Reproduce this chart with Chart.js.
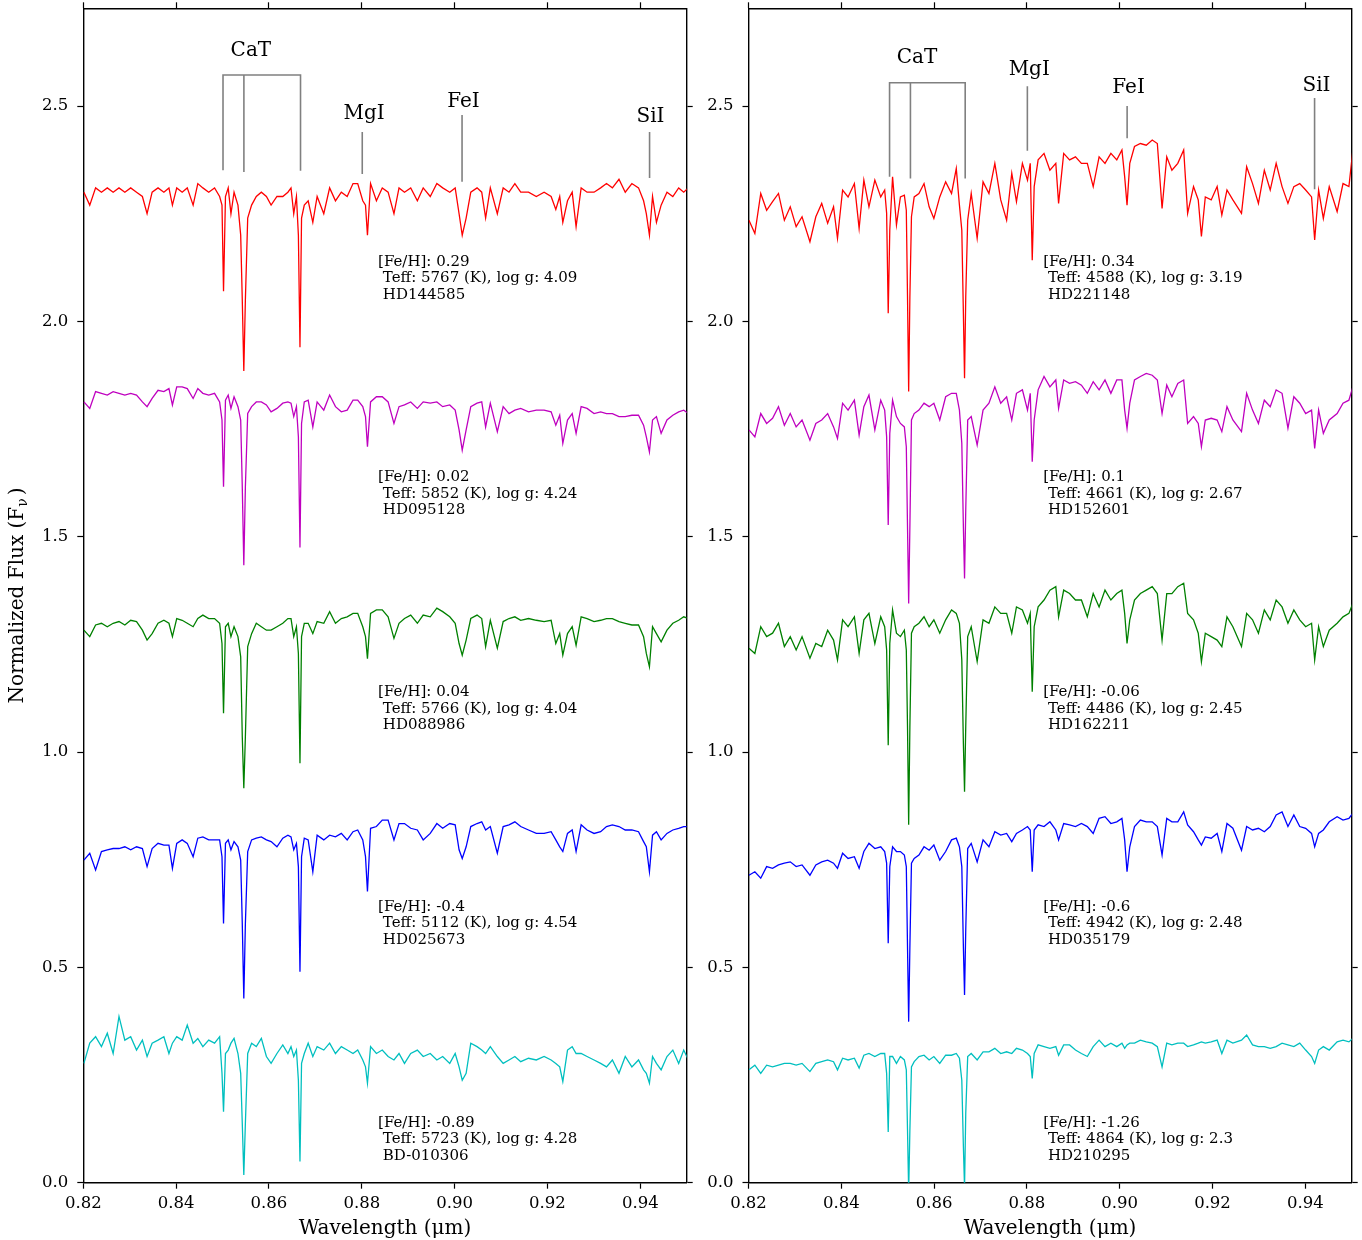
<!DOCTYPE html>
<html>
<head>
<meta charset="utf-8">
<script src="https://cdn.jsdelivr.net/npm/chart.js@4.4.0/dist/chart.umd.min.js"></script>
<style>
  html, body { margin: 0; padding: 0; background: #fff; }
  #wrap { position: relative; width: 1362px; height: 1240px; }
  canvas { position: absolute; top: 0; }
  #left { left: 0; }
  #right { left: 700px; }
</style>
</head>
<body>
<div id="wrap">
  <canvas id="left" width="700" height="1240"></canvas>
  <canvas id="right" width="662" height="1240"></canvas>
</div>
<script>
// axis ticks
const xTicks = [0.82, 0.84, 0.86, 0.88, 0.90, 0.92, 0.94];
const yTicks = [0.0, 0.5, 1.0, 1.5, 2.0, 2.5];
const seriesColors = ['#ff0000', '#bf00bf', '#008000', '#0000ff', '#00bfbf'];

// star info (top to bottom)
const leftFeH = ['0.29', '0.02', '0.04', '-0.4', '-0.89'];
const leftTeff = ['5767', '5852', '5766', '5112', '5723'];
const leftLogg = ['4.09', '4.24', '4.04', '4.54', '4.28'];
const leftStar = ['HD144585', 'HD095128', 'HD088986', 'HD025673', 'BD-010306'];
const rightFeH = ['0.34', '0.1', '-0.06', '-0.6', '-1.26'];
const rightTeff = ['4588', '4661', '4486', '4942', '4864'];
const rightLogg = ['3.19', '2.67', '2.45', '2.48', '2.3'];
const rightStar = ['HD221148', 'HD152601', 'HD162211', 'HD035179', 'HD210295'];
const infoX = 0.8835;
const infoY = [2.138, 1.638, 1.139, 0.640, 0.139];

// line identifications
const lineNames = ['CaT', 'MgI', 'FeI', 'SiI'];
const leftNameX = [0.8561, 0.8805, 0.9019, 0.9422];
const leftNameY = [2.628, 2.481, 2.510, 2.474];
const rightNameX = [0.8563, 0.8805, 0.9019, 0.9424];
const rightNameY = [2.611, 2.585, 2.542, 2.546];
const leftCaTX = [0.8501, 0.8546, 0.8668];
const leftCaTTop = 2.572;
const leftCaTBottom = [2.351, 2.347, 2.350];
const leftMarkX = [0.8801, 0.9016, 0.9420];
const leftMarkTop = [2.440, 2.479, 2.440];
const leftMarkBottom = [2.342, 2.324, 2.333];
const rightCaTX = [0.8504, 0.8549, 0.8667];
const rightCaTTop = 2.554;
const rightCaTBottom = [2.336, 2.332, 2.332];
const rightMarkX = [0.8801, 0.9016, 0.9420];
const rightMarkTop = [2.546, 2.500, 2.519];
const rightMarkBottom = [2.396, 2.425, 2.307];

// ---- left panel: dwarfs ----
const leftWave = [
  0.82013, 0.82139, 0.82265, 0.82391, 0.82517, 0.82643, 0.82769, 0.82895, 0.83021, 0.83147,
  0.83273, 0.83374, 0.83483, 0.83610, 0.83736, 0.83845, 0.83920, 0.84013, 0.84130, 0.84240,
  0.84366, 0.84467, 0.84576, 0.84702, 0.84828, 0.84937, 0.84988, 0.85021, 0.85063, 0.85122,
  0.85181, 0.85248, 0.85332, 0.85391, 0.85425, 0.85458, 0.85492, 0.85542, 0.85626, 0.85727,
  0.85836, 0.85945, 0.86046, 0.86172, 0.86298, 0.86408, 0.86475, 0.86534, 0.86592, 0.86634,
  0.86668, 0.86702, 0.86761, 0.86845, 0.86945, 0.87038, 0.87181, 0.87307, 0.87433, 0.87559,
  0.87685, 0.87811, 0.87912, 0.88021, 0.88080, 0.88122, 0.88189, 0.88315, 0.88441, 0.88567,
  0.88693, 0.88802, 0.88920, 0.89054, 0.89197, 0.89323, 0.89475, 0.89617, 0.89743, 0.89895,
  0.90012, 0.90096, 0.90164, 0.90248, 0.90348, 0.90483, 0.90584, 0.90668, 0.90769, 0.90920,
  0.91046, 0.91172, 0.91298, 0.91424, 0.91592, 0.91760, 0.91928, 0.92079, 0.92180, 0.92264,
  0.92331, 0.92432, 0.92533, 0.92617, 0.92726, 0.92853, 0.93004, 0.93146, 0.93272, 0.93399,
  0.93541, 0.93676, 0.93819, 0.93962, 0.94071, 0.94130, 0.94197, 0.94264, 0.94348, 0.94449,
  0.94575, 0.94701, 0.94827, 0.94936, 0.95037
];
const leftRed = [
  2.30, 2.27, 2.31, 2.30, 2.31, 2.30, 2.31, 2.30, 2.31, 2.30,
  2.29, 2.25, 2.30, 2.31, 2.30, 2.31, 2.27, 2.31, 2.30, 2.31,
  2.27, 2.32, 2.31, 2.30, 2.31, 2.29, 2.27, 2.07, 2.29, 2.31,
  2.25, 2.30, 2.27, 2.20, 2.05, 1.885, 2.05, 2.24, 2.27, 2.29,
  2.30, 2.29, 2.27, 2.29, 2.29, 2.30, 2.31, 2.25, 2.29, 2.20,
  1.94, 2.24, 2.27, 2.28, 2.23, 2.29, 2.25, 2.31, 2.28, 2.30,
  2.29, 2.32, 2.32, 2.28, 2.27, 2.20, 2.32, 2.28, 2.31, 2.30,
  2.25, 2.31, 2.30, 2.31, 2.28, 2.31, 2.29, 2.32, 2.31, 2.30,
  2.31, 2.25, 2.20, 2.24, 2.30, 2.31, 2.30, 2.24, 2.31, 2.25,
  2.31, 2.30, 2.32, 2.30, 2.30, 2.29, 2.30, 2.29, 2.26, 2.29,
  2.23, 2.28, 2.30, 2.22, 2.31, 2.30, 2.30, 2.31, 2.32, 2.31,
  2.33, 2.30, 2.32, 2.31, 2.28, 2.25, 2.20, 2.29, 2.23, 2.27,
  2.30, 2.29, 2.31, 2.30, 2.31
];
const leftMagenta = [
  1.813, 1.798, 1.837, 1.833, 1.829, 1.837, 1.833, 1.829, 1.833, 1.829,
  1.813, 1.802, 1.821, 1.840, 1.837, 1.844, 1.806, 1.848, 1.848, 1.844,
  1.821, 1.844, 1.833, 1.829, 1.833, 1.813, 1.771, 1.616, 1.817, 1.829,
  1.798, 1.825, 1.802, 1.771, 1.616, 1.434, 1.616, 1.786, 1.802, 1.813,
  1.813, 1.806, 1.790, 1.798, 1.810, 1.813, 1.810, 1.779, 1.802, 1.732,
  1.475, 1.763, 1.813, 1.817, 1.755, 1.813, 1.794, 1.829, 1.802, 1.790,
  1.794, 1.817, 1.817, 1.802, 1.779, 1.709, 1.813, 1.825, 1.825, 1.813,
  1.763, 1.802, 1.806, 1.813, 1.798, 1.813, 1.810, 1.813, 1.802, 1.806,
  1.794, 1.748, 1.701, 1.748, 1.802, 1.810, 1.813, 1.755, 1.810, 1.744,
  1.802, 1.786, 1.794, 1.798, 1.790, 1.794, 1.794, 1.790, 1.759, 1.782,
  1.717, 1.771, 1.786, 1.740, 1.802, 1.798, 1.786, 1.790, 1.786, 1.786,
  1.779, 1.779, 1.782, 1.782, 1.759, 1.732, 1.697, 1.771, 1.779, 1.740,
  1.771, 1.782, 1.790, 1.794, 1.786
];
const leftGreen = [
  1.283, 1.268, 1.295, 1.299, 1.291, 1.299, 1.303, 1.295, 1.306, 1.303,
  1.283, 1.260, 1.275, 1.299, 1.306, 1.299, 1.268, 1.310, 1.306, 1.299,
  1.291, 1.310, 1.318, 1.310, 1.310, 1.299, 1.252, 1.090, 1.291, 1.299,
  1.268, 1.291, 1.268, 1.221, 1.036, 0.916, 1.036, 1.245, 1.275, 1.299,
  1.291, 1.283, 1.283, 1.291, 1.299, 1.310, 1.310, 1.268, 1.291, 1.229,
  0.974, 1.268, 1.299, 1.299, 1.275, 1.303, 1.299, 1.326, 1.299, 1.310,
  1.314, 1.322, 1.322, 1.291, 1.268, 1.217, 1.322, 1.330, 1.330, 1.314,
  1.264, 1.299, 1.310, 1.318, 1.299, 1.318, 1.314, 1.334, 1.326, 1.314,
  1.299, 1.252, 1.225, 1.260, 1.310, 1.318, 1.310, 1.245, 1.306, 1.241,
  1.303, 1.310, 1.314, 1.306, 1.310, 1.306, 1.303, 1.306, 1.252, 1.275,
  1.225, 1.275, 1.291, 1.248, 1.314, 1.310, 1.303, 1.306, 1.310, 1.310,
  1.303, 1.299, 1.295, 1.295, 1.268, 1.229, 1.198, 1.291, 1.275, 1.256,
  1.283, 1.299, 1.306, 1.314, 1.310
];
const leftBlue = [
  0.749, 0.765, 0.726, 0.769, 0.773, 0.776, 0.776, 0.780, 0.773, 0.780,
  0.776, 0.734, 0.776, 0.788, 0.784, 0.784, 0.730, 0.788, 0.796, 0.788,
  0.757, 0.800, 0.803, 0.796, 0.796, 0.796, 0.757, 0.602, 0.788, 0.796,
  0.773, 0.792, 0.780, 0.749, 0.602, 0.428, 0.602, 0.769, 0.796, 0.800,
  0.803, 0.796, 0.792, 0.780, 0.800, 0.807, 0.803, 0.773, 0.788, 0.734,
  0.490, 0.757, 0.800, 0.796, 0.722, 0.807, 0.796, 0.807, 0.803, 0.811,
  0.796, 0.815, 0.819, 0.796, 0.757, 0.676, 0.823, 0.827, 0.842, 0.842,
  0.796, 0.834, 0.834, 0.823, 0.819, 0.796, 0.811, 0.834, 0.823, 0.834,
  0.831, 0.773, 0.753, 0.780, 0.827, 0.834, 0.838, 0.819, 0.827, 0.765,
  0.827, 0.831, 0.838, 0.827, 0.819, 0.811, 0.811, 0.815, 0.796, 0.780,
  0.769, 0.811, 0.819, 0.769, 0.831, 0.819, 0.811, 0.815, 0.827, 0.831,
  0.827, 0.819, 0.819, 0.815, 0.792, 0.780, 0.722, 0.807, 0.815, 0.796,
  0.811, 0.819, 0.823, 0.827, 0.827
];
const leftCyan = [
  0.277, 0.324, 0.339, 0.316, 0.347, 0.300, 0.386, 0.331, 0.339, 0.308,
  0.331, 0.293, 0.324, 0.331, 0.339, 0.300, 0.324, 0.339, 0.331, 0.366,
  0.324, 0.335, 0.316, 0.331, 0.324, 0.339, 0.254, 0.165, 0.300, 0.308,
  0.324, 0.335, 0.300, 0.254, 0.138, 0.018, 0.138, 0.300, 0.324, 0.316,
  0.335, 0.293, 0.277, 0.300, 0.320, 0.300, 0.316, 0.293, 0.308, 0.238,
  0.049, 0.277, 0.300, 0.324, 0.293, 0.316, 0.308, 0.324, 0.300, 0.316,
  0.308, 0.300, 0.308, 0.285, 0.269, 0.231, 0.316, 0.300, 0.308, 0.293,
  0.285, 0.300, 0.277, 0.300, 0.308, 0.293, 0.300, 0.285, 0.293, 0.277,
  0.300, 0.269, 0.238, 0.254, 0.324, 0.316, 0.308, 0.300, 0.316, 0.293,
  0.277, 0.285, 0.293, 0.281, 0.289, 0.285, 0.293, 0.285, 0.277, 0.269,
  0.235, 0.308, 0.316, 0.300, 0.300, 0.293, 0.285, 0.277, 0.269, 0.285,
  0.254, 0.293, 0.269, 0.285, 0.262, 0.254, 0.231, 0.293, 0.277, 0.262,
  0.293, 0.308, 0.277, 0.308, 0.285
];

// ---- right panel: giants ----
const rightWave = [
  0.82010, 0.82137, 0.82264, 0.82391, 0.82519, 0.82646, 0.82773, 0.82900, 0.83027, 0.83154,
  0.83324, 0.83451, 0.83578, 0.83706, 0.83833, 0.83918, 0.84028, 0.84146, 0.84282, 0.84384,
  0.84486, 0.84596, 0.84723, 0.84850, 0.84935, 0.84977, 0.85011, 0.85045, 0.85105, 0.85189,
  0.85274, 0.85359, 0.85401, 0.85427, 0.85452, 0.85478, 0.85512, 0.85571, 0.85673, 0.85783,
  0.85893, 0.85995, 0.86122, 0.86249, 0.86376, 0.86478, 0.86546, 0.86597, 0.86631, 0.86656,
  0.86682, 0.86724, 0.86800, 0.86928, 0.87055, 0.87182, 0.87309, 0.87436, 0.87563, 0.87674,
  0.87775, 0.87903, 0.88013, 0.88072, 0.88115, 0.88157, 0.88242, 0.88369, 0.88496, 0.88623,
  0.88683, 0.88793, 0.88920, 0.89047, 0.89175, 0.89302, 0.89429, 0.89556, 0.89683, 0.89810,
  0.89937, 0.90048, 0.90107, 0.90158, 0.90217, 0.90319, 0.90446, 0.90573, 0.90701, 0.90811,
  0.90913, 0.91014, 0.91125, 0.91252, 0.91379, 0.91464, 0.91591, 0.91693, 0.91761, 0.91845,
  0.91972, 0.92100, 0.92201, 0.92312, 0.92439, 0.92625, 0.92736, 0.92863, 0.92990, 0.93117,
  0.93244, 0.93372, 0.93499, 0.93626, 0.93753, 0.93880, 0.94008, 0.94135, 0.94202, 0.94287,
  0.94389, 0.94516, 0.94686, 0.94813, 0.94940, 0.95025, 0.95152
];
const rightRed = [
  2.235, 2.204, 2.297, 2.258, 2.278, 2.297, 2.235, 2.266, 2.220, 2.243,
  2.185, 2.243, 2.274, 2.228, 2.266, 2.193, 2.305, 2.289, 2.320, 2.216,
  2.328, 2.266, 2.328, 2.289, 2.305, 2.251, 2.019, 2.212, 2.336, 2.224,
  2.289, 2.293, 2.258, 2.057, 1.837, 2.057, 2.243, 2.289, 2.297, 2.320,
  2.266, 2.239, 2.289, 2.324, 2.297, 2.355, 2.270, 2.212, 2.019, 1.868,
  2.057, 2.235, 2.297, 2.193, 2.324, 2.297, 2.367, 2.282, 2.235, 2.344,
  2.278, 2.367, 2.328, 2.367, 2.142, 2.313, 2.375, 2.390, 2.351, 2.367,
  2.274, 2.390, 2.375, 2.382, 2.367, 2.367, 2.313, 2.382, 2.367, 2.390,
  2.375, 2.398, 2.336, 2.270, 2.367, 2.406, 2.413, 2.409, 2.421, 2.413,
  2.262, 2.382, 2.351, 2.367, 2.398, 2.251, 2.313, 2.282, 2.197, 2.289,
  2.282, 2.313, 2.247, 2.305, 2.282, 2.251, 2.359, 2.320, 2.274, 2.351,
  2.305, 2.367, 2.313, 2.274, 2.313, 2.320, 2.305, 2.289, 2.189, 2.305,
  2.239, 2.313, 2.255, 2.320, 2.313, 2.398, 2.398
];
const rightMagenta = [
  1.748, 1.732, 1.786, 1.763, 1.775, 1.802, 1.759, 1.786, 1.755, 1.771,
  1.724, 1.763, 1.771, 1.786, 1.755, 1.728, 1.810, 1.794, 1.817, 1.736,
  1.802, 1.829, 1.748, 1.817, 1.794, 1.732, 1.527, 1.740, 1.817, 1.779,
  1.763, 1.755, 1.709, 1.523, 1.345, 1.523, 1.771, 1.786, 1.794, 1.810,
  1.802, 1.810, 1.771, 1.825, 1.833, 1.833, 1.794, 1.717, 1.523, 1.403,
  1.562, 1.771, 1.779, 1.713, 1.794, 1.810, 1.848, 1.810, 1.825, 1.771,
  1.833, 1.841, 1.794, 1.833, 1.674, 1.771, 1.841, 1.872, 1.848, 1.864,
  1.798, 1.864, 1.856, 1.860, 1.852, 1.833, 1.860, 1.841, 1.864, 1.833,
  1.864, 1.864, 1.794, 1.752, 1.810, 1.864, 1.872, 1.879, 1.875, 1.864,
  1.786, 1.852, 1.825, 1.856, 1.864, 1.763, 1.779, 1.763, 1.709, 1.771,
  1.775, 1.771, 1.744, 1.802, 1.771, 1.744, 1.833, 1.794, 1.763, 1.817,
  1.802, 1.841, 1.833, 1.752, 1.825, 1.810, 1.786, 1.794, 1.705, 1.794,
  1.740, 1.771, 1.786, 1.810, 1.817, 1.848, 1.848
];
const rightGreen = [
  1.241, 1.229, 1.291, 1.268, 1.276, 1.299, 1.245, 1.268, 1.237, 1.268,
  1.218, 1.252, 1.245, 1.283, 1.260, 1.214, 1.307, 1.291, 1.314, 1.229,
  1.307, 1.322, 1.252, 1.314, 1.291, 1.237, 1.016, 1.252, 1.330, 1.276,
  1.268, 1.283, 1.237, 1.059, 0.831, 1.059, 1.276, 1.291, 1.299, 1.314,
  1.291, 1.307, 1.276, 1.307, 1.330, 1.322, 1.299, 1.214, 1.020, 0.908,
  1.059, 1.268, 1.291, 1.210, 1.307, 1.299, 1.337, 1.322, 1.322, 1.276,
  1.337, 1.330, 1.299, 1.322, 1.140, 1.291, 1.337, 1.353, 1.376, 1.384,
  1.314, 1.376, 1.368, 1.353, 1.353, 1.314, 1.368, 1.337, 1.376, 1.353,
  1.368, 1.376, 1.322, 1.252, 1.307, 1.353, 1.368, 1.376, 1.384, 1.368,
  1.260, 1.368, 1.368, 1.384, 1.392, 1.322, 1.307, 1.276, 1.210, 1.276,
  1.268, 1.260, 1.245, 1.314, 1.291, 1.245, 1.322, 1.307, 1.276, 1.330,
  1.307, 1.353, 1.337, 1.299, 1.330, 1.307, 1.291, 1.299, 1.214, 1.291,
  1.245, 1.283, 1.299, 1.314, 1.322, 1.345, 1.337
];
const rightBlue = [
  0.714, 0.722, 0.707, 0.734, 0.730, 0.738, 0.742, 0.745, 0.734, 0.738,
  0.714, 0.738, 0.745, 0.749, 0.742, 0.730, 0.765, 0.753, 0.757, 0.730,
  0.769, 0.788, 0.776, 0.780, 0.769, 0.742, 0.556, 0.734, 0.780, 0.769,
  0.769, 0.761, 0.734, 0.548, 0.374, 0.548, 0.742, 0.753, 0.761, 0.780,
  0.772, 0.784, 0.749, 0.769, 0.796, 0.800, 0.780, 0.734, 0.548, 0.436,
  0.587, 0.776, 0.788, 0.745, 0.796, 0.780, 0.815, 0.807, 0.811, 0.792,
  0.811, 0.819, 0.827, 0.819, 0.722, 0.819, 0.831, 0.827, 0.838, 0.819,
  0.796, 0.834, 0.831, 0.827, 0.834, 0.827, 0.811, 0.846, 0.850, 0.834,
  0.838, 0.846, 0.796, 0.722, 0.780, 0.827, 0.842, 0.838, 0.838, 0.827,
  0.761, 0.846, 0.838, 0.838, 0.861, 0.831, 0.815, 0.796, 0.784, 0.803,
  0.800, 0.811, 0.769, 0.834, 0.823, 0.772, 0.827, 0.819, 0.823, 0.815,
  0.827, 0.854, 0.861, 0.827, 0.854, 0.827, 0.823, 0.811, 0.780, 0.811,
  0.819, 0.838, 0.850, 0.842, 0.846, 0.858, 0.858
];
const rightCyan = [
  0.262, 0.273, 0.254, 0.273, 0.269, 0.273, 0.277, 0.277, 0.273, 0.277,
  0.258, 0.277, 0.281, 0.285, 0.281, 0.262, 0.289, 0.285, 0.289, 0.266,
  0.296, 0.300, 0.293, 0.300, 0.300, 0.254, 0.118, 0.293, 0.293, 0.277,
  0.293, 0.285, 0.262, 0.122, -0.020, 0.122, 0.269, 0.281, 0.293, 0.296,
  0.285, 0.293, 0.277, 0.296, 0.296, 0.300, 0.289, 0.238, 0.084, -0.010,
  0.161, 0.293, 0.300, 0.285, 0.304, 0.304, 0.312, 0.300, 0.304, 0.300,
  0.312, 0.308, 0.300, 0.293, 0.242, 0.300, 0.320, 0.316, 0.312, 0.316,
  0.296, 0.320, 0.320, 0.308, 0.300, 0.293, 0.316, 0.331, 0.316, 0.324,
  0.316, 0.324, 0.312, 0.320, 0.324, 0.324, 0.331, 0.327, 0.324, 0.316,
  0.269, 0.324, 0.320, 0.324, 0.324, 0.316, 0.320, 0.324, 0.327, 0.324,
  0.327, 0.331, 0.300, 0.331, 0.324, 0.331, 0.343, 0.320, 0.316, 0.316,
  0.312, 0.316, 0.324, 0.320, 0.316, 0.324, 0.308, 0.293, 0.277, 0.308,
  0.316, 0.308, 0.327, 0.331, 0.327, 0.335, 0.331
];

const serif = '"DejaVu Serif"';

function textLayer(p) {
  return {
    id: 'textLayer',
    afterDraw(chart) {
      const { ctx, chartArea } = chart;
      const xs = chart.scales.x, ys = chart.scales.y;
      ctx.save();
      ctx.fillStyle = '#000';

      // line labels
      ctx.font = '20px ' + serif;
      ctx.textAlign = 'center';
      ctx.textBaseline = 'middle';
      lineNames.forEach((n, k) => {
        ctx.fillText(n, xs.getPixelForValue(p.nameX[k]), ys.getPixelForValue(p.nameY[k]));
      });

      // star parameters
      ctx.font = '15px ' + serif;
      ctx.textAlign = 'left';
      const ix = xs.getPixelForValue(infoX);
      p.feh.forEach((f, i) => {
        const y0 = ys.getPixelForValue(infoY[i]);
        ctx.fillText('[Fe/H]: ' + f, ix, y0);
        ctx.fillText(' Teff: ' + p.teff[i] + ' (K), log g: ' + p.logg[i], ix, y0 + 16.5);
        ctx.fillText(' ' + p.star[i], ix, y0 + 33);
      });

      // x title
      ctx.font = '20px ' + serif;
      ctx.textAlign = 'center';
      ctx.fillText('Wavelength (\u03bcm)', (chartArea.left + chartArea.right) / 2, 1229);

      // y title with subscript nu
      if (p.yTitle) {
        ctx.translate(18, (chartArea.top + chartArea.bottom) / 2);
        ctx.rotate(-Math.PI / 2);
        ctx.textAlign = 'left';
        const big = '20px ' + serif, small = '14px ' + serif;
        ctx.font = big;
        const w1 = ctx.measureText('Normalized Flux (F').width;
        const w3 = ctx.measureText(')').width;
        ctx.font = small;
        const w2 = ctx.measureText('\u03bd').width + 3;
        const x0 = -(w1 + w2 + w3) / 2;
        ctx.font = big;
        ctx.fillText('Normalized Flux (F', x0, 0);
        ctx.font = small;
        ctx.fillText('\u03bd', x0 + w1, 5);
        ctx.font = big;
        ctx.fillText(')', x0 + w1 + w2, 0);
      }
      ctx.restore();
    }
  };
}

function makeAxis(position, ticksList, size, showLabels, extra) {
  const horiz = position === 'bottom' || position === 'top';
  return Object.assign({
    type: 'linear',
    position: position,
    afterBuildTicks: s => { s.ticks = ticksList.map(v => ({ value: v })); },
    afterFit: s => {
      if (horiz) s.height = size; else s.width = size;
      // keep the plot box where the reference has it
      s.paddingTop = 0; s.paddingBottom = 0; s.paddingLeft = 0; s.paddingRight = 0;
    },
    ticks: {
      display: showLabels,
      autoSkip: false,
      maxRotation: 0,
      color: '#000',
      padding: horiz ? 5 : 9,
      font: { family: serif, size: 16.5 },
      callback: v => horiz ? v.toFixed(2) : v.toFixed(1)
    },
    grid: { drawOnChartArea: false, drawTicks: true, tickLength: 6, tickColor: '#000', tickWidth: 1.2 },
    border: { display: true, color: '#000', width: 1.4 }
  }, extra);
}

function buildPanel(canvasId, wave, fluxes, p) {
  const datasets = fluxes.map((f, i) => ({
    data: wave.map((w, j) => ({ x: w, y: f[j] })),
    borderColor: seriesColors[i],
    borderWidth: 1.3,
    showLine: true,
    pointRadius: 0,
    fill: false
  }));
  const mark = { borderColor: '#808080', borderWidth: 1.6, showLine: true, pointRadius: 0, fill: false };
  datasets.push(Object.assign({}, mark, { data: [
    { x: p.catX[0], y: p.catBottom[0] }, { x: p.catX[0], y: p.catTop },
    { x: p.catX[2], y: p.catTop }, { x: p.catX[2], y: p.catBottom[2] }
  ] }));
  datasets.push(Object.assign({}, mark, { data: [
    { x: p.catX[1], y: p.catTop }, { x: p.catX[1], y: p.catBottom[1] }
  ] }));
  p.markX.forEach((mx, k) => {
    datasets.push(Object.assign({}, mark, { data: [
      { x: mx, y: p.markTop[k] }, { x: mx, y: p.markBottom[k] }
    ] }));
  });

  new Chart(document.getElementById(canvasId), {
    type: 'scatter',
    data: { datasets: datasets },
    options: {
      responsive: false,
      animation: false,
      devicePixelRatio: 1,
      events: [],
      layout: { padding: 0 },
      plugins: { legend: { display: false }, tooltip: { enabled: false } },
      scales: {
        x: makeAxis('bottom', xTicks, 57.3, true, { min: 0.82, max: 0.95 }),
        x2: makeAxis('top', xTicks, 8.3, false, { min: 0.82, max: 0.95 }),
        y: makeAxis('left', yTicks, p.leftW, true, { min: 0, max: 2.727 }),
        y2: makeAxis('right', yTicks, p.rightW, false, { min: 0, max: 2.727 })
      }
    },
    plugins: [textLayer(p)]
  });
}

buildPanel('left', leftWave, [leftRed, leftMagenta, leftGreen, leftBlue, leftCyan], {
  leftW: 83.3, rightW: 13.3, yTitle: true,
  nameX: leftNameX, nameY: leftNameY,
  catX: leftCaTX, catTop: leftCaTTop, catBottom: leftCaTBottom,
  markX: leftMarkX, markTop: leftMarkTop, markBottom: leftMarkBottom,
  feh: leftFeH, teff: leftTeff, logg: leftLogg, star: leftStar
});
buildPanel('right', rightWave, [rightRed, rightMagenta, rightGreen, rightBlue, rightCyan], {
  leftW: 48.5, rightW: 10.3, yTitle: false,
  nameX: rightNameX, nameY: rightNameY,
  catX: rightCaTX, catTop: rightCaTTop, catBottom: rightCaTBottom,
  markX: rightMarkX, markTop: rightMarkTop, markBottom: rightMarkBottom,
  feh: rightFeH, teff: rightTeff, logg: rightLogg, star: rightStar
});
</script>
</body>
</html>
